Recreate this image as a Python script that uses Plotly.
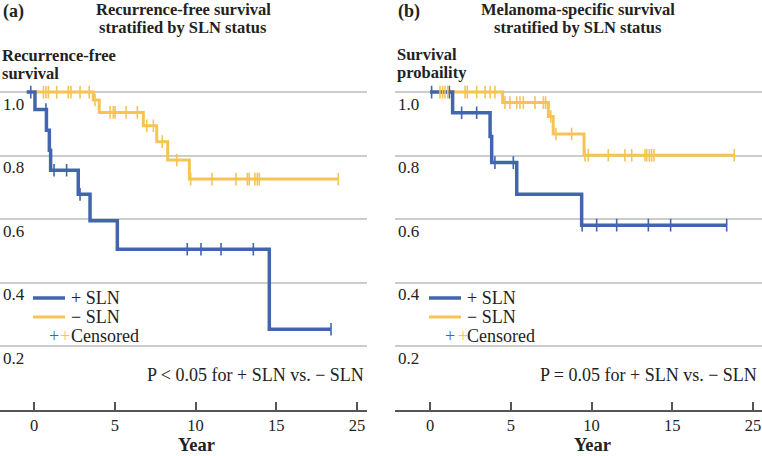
import plotly.graph_objects as go

# ---------------- data (x in axis units, y survival probability) ----------------
tick_vals = [0, 5, 10, 15, 20]
tick_text = ["0", "5", "10", "15", "25"]
y_ticks = [0.2, 0.4, 0.6, 0.8, 1.0]
y_tick_text = ["0.2", "0.4", "0.6", "0.8", "1.0"]

# Panel (a) recurrence-free survival
a_pos_times = [-0.45, 0.06, 0.77, 0.95, 1.03, 2.74, 3.47, 5.16, 14.57, 18.39]
a_pos_surv = [1.0, 0.945, 0.88, 0.817, 0.754, 0.678, 0.595, 0.505, 0.253, 0.253]
a_pos_cens = [-0.2, 0.74, 1.24, 2.02, 2.85, 9.49, 10.34, 11.58, 13.58, 18.39]

a_neg_times = [0.0, 3.67, 4.04, 6.77, 7.60, 8.28, 9.62, 18.84]
a_neg_surv = [1.0, 0.975, 0.936, 0.894, 0.844, 0.786, 0.726, 0.726]
a_neg_cens = [0.58, 0.74, 0.89, 1.41, 2.12, 2.29, 2.85, 3.42, 3.78, 4.71, 4.91, 5.02,
              5.70, 6.40, 6.98, 7.39, 7.94, 8.84, 9.70, 11.02, 12.51, 13.21, 13.33,
              13.68, 13.83, 13.95, 18.84]

# Panel (b) melanoma-specific survival
b_pos_times = [0.0, 1.40, 3.72, 3.82, 5.37, 9.39, 18.37]
b_pos_surv = [1.0, 0.935, 0.86, 0.778, 0.678, 0.581, 0.581]
b_pos_cens = [0.1, 1.2, 1.96, 2.89, 4.02, 5.16, 9.42, 10.32, 11.56, 13.52, 14.90, 18.37]

b_neg_times = [0.0, 4.50, 7.33, 7.63, 9.54, 18.84]
b_neg_surv = [1.0, 0.967, 0.923, 0.868, 0.801, 0.801]
b_neg_cens = [0.62, 0.78, 0.93, 1.10, 2.17, 2.31, 2.89, 3.41, 3.72, 4.02, 4.64, 4.95,
              5.37, 5.57, 5.78, 6.50, 7.02, 7.16, 7.48, 7.80, 8.77, 9.60, 9.80, 11.04,
              12.07, 12.49, 13.31, 13.42, 13.58, 13.72, 13.87, 18.84]

BLUE = "#4166AE"
YELLOW = "#F5C455"
FONT = "Liberation Serif"
W, H = 762, 456


def step_value(times, surv, t):
    v = surv[0]
    for ti, si in zip(times, surv):
        if ti <= t:
            v = si
    return v


fig = go.Figure()


def add_panel(xa, ya, pos_t, pos_s, pos_c, neg_t, neg_s, neg_c):
    fig.add_trace(go.Scatter(x=neg_t, y=neg_s, mode="lines", line=dict(color=YELLOW, width=3, shape="hv"),
                             xaxis=xa, yaxis=ya, showlegend=False, hoverinfo="skip"))
    fig.add_trace(go.Scatter(x=pos_t, y=pos_s, mode="lines", line=dict(color=BLUE, width=3.5, shape="hv"),
                             xaxis=xa, yaxis=ya, showlegend=False, hoverinfo="skip"))
    fig.add_trace(go.Scatter(x=pos_c, y=[step_value(pos_t, pos_s, t) for t in pos_c], mode="markers",
                             marker=dict(symbol="line-ns", size=9, line=dict(color=BLUE, width=1.6)),
                             xaxis=xa, yaxis=ya, showlegend=False, hoverinfo="skip"))
    fig.add_trace(go.Scatter(x=neg_c, y=[step_value(neg_t, neg_s, t) for t in neg_c], mode="markers",
                             marker=dict(symbol="line-ns", size=9, line=dict(color=YELLOW, width=1.6)),
                             xaxis=xa, yaxis=ya, showlegend=False, hoverinfo="skip"))


add_panel("x", "y", a_pos_times, a_pos_surv, a_pos_cens, a_neg_times, a_neg_surv, a_neg_cens)
add_panel("x2", "y2", b_pos_times, b_pos_surv, b_pos_cens, b_neg_times, b_neg_surv, b_neg_cens)

ydom = [1 - 409.6 / H, 1 - (409.6 - 1.05 * 317.5) / H]
xcommon = dict(tickmode="array", tickvals=tick_vals, ticktext=tick_text, ticks="inside", ticklen=8,
               tickwidth=1.5, tickcolor="#555", showline=True, linecolor="#555", linewidth=1.5,
               showgrid=False, zeroline=False, ticklabelstandoff=0,
               tickfont=dict(family=FONT, size=16.5, color="#222"))
ycommon = dict(range=[0, 1.05], domain=ydom, tickmode="array", tickvals=y_ticks, ticktext=y_tick_text,
               ticks="", showline=False, showgrid=True, gridcolor="#cccccc", gridwidth=1.5,
               zeroline=False, ticklabelposition="inside bottom",
               tickfont=dict(family=FONT, size=17, color="#222"))

fig.update_layout(
    width=W, height=H, margin=dict(l=0, r=0, t=0, b=0),
    paper_bgcolor="white", plot_bgcolor="white",
    xaxis=dict(domain=[0, 367 / W], range=[-34 / 16.15, (367 - 34) / 16.15], anchor="y", **xcommon),
    yaxis=dict(anchor="x", **ycommon),
    xaxis2=dict(domain=[395 / W, 1.0], range=[-35 / 16.15, (762 - 430) / 16.15], anchor="y2", **xcommon),
    yaxis2=dict(anchor="x2", **ycommon),
)


def ann(text, px, py, size=18, bold=False, xanchor="left", color="#222"):
    fig.add_annotation(text=f"<b>{text}</b>" if bold else text, x=px / W, y=1 - py / H,
                       xref="paper", yref="paper", xanchor=xanchor, yanchor="middle", showarrow=False,
                       font=dict(family=FONT, size=size, color=color))


# titles
ann("(a)", 1, 11, bold=True)
ann("Recurrence-free survival", 183, 9, size=16.5, bold=True, xanchor="center")
ann("stratified by SLN status", 183, 28, size=16.5, bold=True, xanchor="center")
ann("Recurrence-free", 0, 56, size=16.5, bold=True)
ann("survival", 0, 74, size=16.5, bold=True)
ann("(b)", 396, 11, bold=True)
ann("Melanoma-specific survival", 578, 9, size=16.5, bold=True, xanchor="center")
ann("stratified by SLN status", 578, 28, size=16.5, bold=True, xanchor="center")
ann("Survival", 395, 54, size=16.5, bold=True)
ann("probaility", 395, 72, size=16.5, bold=True)

# axis titles
ann("Year", 196, 445, size=18.5, bold=True, xanchor="center")
ann("Year", 592, 445, size=18.5, bold=True, xanchor="center")

# p-values
ann("P &lt; 0.05 for + SLN vs. − SLN", 366, 375, xanchor="right")
ann("P = 0.05 for + SLN vs. − SLN", 759, 375, xanchor="right")

# legends
for x0, x1, xt, xb, xy in [(33, 65, 69, 47, 58), (429, 461, 465, 443, 456)]:
    fig.add_shape(type="line", xref="paper", yref="paper", x0=x0 / W, x1=x1 / W,
                  y0=1 - 298 / H, y1=1 - 298 / H, line=dict(color=BLUE, width=3.5))
    fig.add_shape(type="line", xref="paper", yref="paper", x0=x0 / W, x1=x1 / W,
                  y0=1 - 317 / H, y1=1 - 317 / H, line=dict(color=YELLOW, width=3))
    ann("+ SLN", xt, 298)
    ann("− SLN", xt, 317)
    ann("Censored", xt, 336)
    ann("+", xb, 336, color=BLUE)
    ann("+", xy, 336, color=YELLOW)

fig.write_html("out.html", config={"displayModeBar": False},
               post_script="document.body.style.margin='0';document.body.style.overflow='hidden';")
